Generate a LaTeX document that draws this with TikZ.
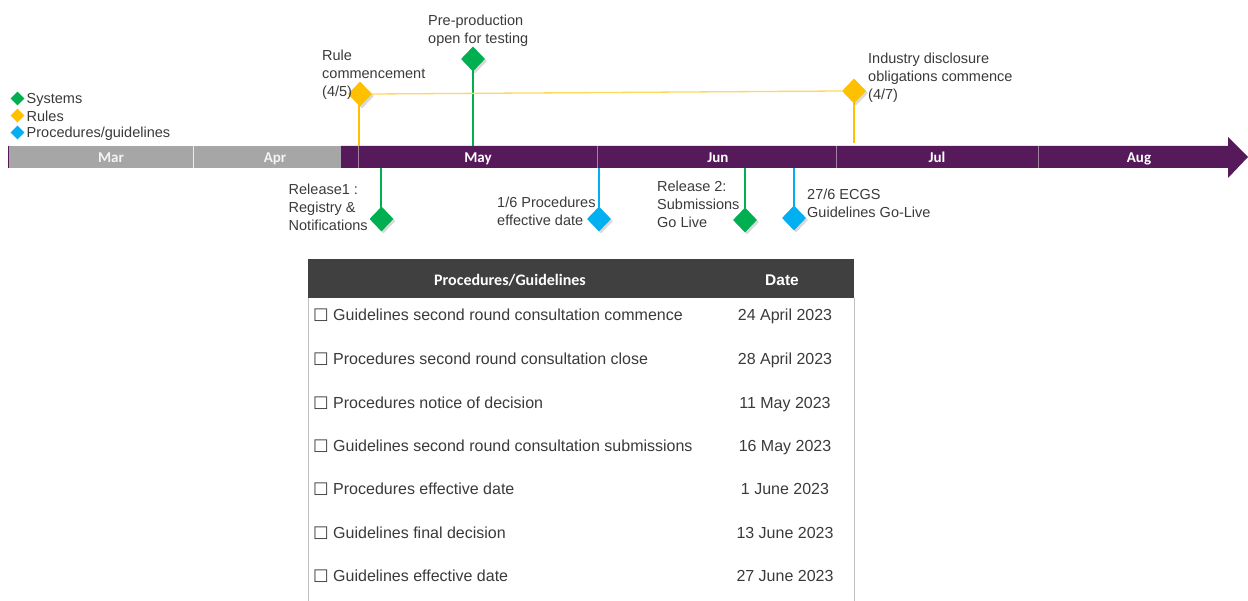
\documentclass[tikz,border=0pt]{standalone}
\usepackage{fontspec}
\setmainfont{Liberation Sans}
\newfontfamily\carlito{Carlito}
\newfontfamily\dejavu{DejaVu Sans}
\usepackage{tikz}
\usetikzlibrary{shapes.geometric,shadows}

\definecolor{sysgreen}{HTML}{00B050}
\definecolor{rulegold}{HTML}{FFC000}
\definecolor{procblue}{HTML}{00B0F0}
\definecolor{barpurple}{HTML}{561A5B}
\definecolor{bargray}{HTML}{A6A6A6}
\definecolor{txtgray}{HTML}{3A3A3A}
\definecolor{hdrgray}{HTML}{404040}
\definecolor{linegold}{HTML}{FFD75A}

\newcommand{\chk}{\raisebox{1pt}{\dejavu\fontsize{16.5}{19}\selectfont □}}

\tikzset{
	mile/.style={diamond, inner sep=0pt, minimum width=24pt, minimum height=25pt,
		drop shadow={shadow xshift=2pt, shadow yshift=-2pt, opacity=.3}},
	legmark/.style={diamond, inner sep=0pt, minimum width=14pt, minimum height=14pt},
	lbl/.style={font=\fontsize{14.5}{18}\selectfont, text=txtgray, align=left, inner sep=0pt, anchor=west},
	month/.style={font=\carlito\bfseries\fontsize{15}{17}\selectfont, inner sep=0pt, anchor=base},
	stem/.style={line width=2pt},
	rowtxt/.style={font=\fontsize{16}{19}\selectfont, text=txtgray, inner sep=0pt, anchor=base west},
	datetxt/.style={font=\fontsize{16}{19}\selectfont, text=txtgray, inner sep=0pt, anchor=base},
}

\begin{document}
\begin{tikzpicture}[x=1pt,y=-1pt]
	
	\useasboundingbox (0,0) rectangle (1248,601);
	
	% timeline bar
	\fill[bargray] (8,146) rectangle (341,168);
	\fill[barpurple] (341,146) -- (1228,146) -- (1228,137) -- (1248,157) -- (1228,178) -- (1228,168) -- (341,168) -- cycle;
	\draw[barpurple, line width=1pt] (8.5,146) -- (8.5,168);
	\draw[white!80!bargray, line width=.6pt] (193,146) -- (193,168);
	\draw[white!45!barpurple, line width=.6pt] (358.5,146) -- (358.5,168);
	\draw[white!45!barpurple, line width=.6pt] (597,146) -- (597,168);
	\draw[white!45!barpurple, line width=.6pt] (836,146) -- (836,168);
	\draw[white!45!barpurple, line width=.6pt] (1038,146) -- (1038,168);
	
	\node[month, text=white!88!bargray] (mar) at (111,162.5) {Mar};
	\node[month, text=white!88!bargray] (apr) at (275,162.5) {Apr};
	\node[month, text=white] (may) at (478,162.5) {May};
	\node[month, text=white] (jun) at (718,162.5) {Jun};
	\node[month, text=white] (jul) at (937,162.5) {Jul};
	\node[month, text=white] (aug) at (1139,162.5) {Aug};
	
	\coordinate (t-rule) at (359,146);
	\coordinate (t-pre) at (473,146);
	\coordinate (t-ind) at (854,143);
	\coordinate (b-rel1) at (381,168);
	\coordinate (b-proc) at (599,168);
	\coordinate (b-rel2) at (745,168);
	\coordinate (b-ecgs) at (794,168);
	
	% stems
	\coordinate (s-rule) at (359,100);
	\coordinate (s-pre) at (473,65);
	\coordinate (s-ind) at (854,97);
	\coordinate (s-rel1) at (381,213);
	\coordinate (s-proc) at (599,213);
	\coordinate (s-rel2) at (745,214);
	\coordinate (s-ecgs) at (794,212);
	\draw[stem, rulegold] (s-rule) -- (t-rule);
	\draw[stem, sysgreen] (s-pre) -- (t-pre);
	\draw[stem, rulegold] (s-ind) -- (t-ind);
	\draw[stem, sysgreen] (b-rel1) -- (s-rel1);
	\draw[stem, procblue] (b-proc) -- (s-proc);
	\draw[stem, sysgreen] (b-rel2) -- (s-rel2);
	\draw[stem, procblue] (b-ecgs) -- (s-ecgs);
	
	% milestones
	\node[mile, fill=rulegold] (rule) at (360,94) {};
	\node[mile, fill=sysgreen] (pre) at (473,59) {};
	\node[mile, fill=rulegold] (ind) at (854,91) {};
	\node[mile, fill=sysgreen] (rel1) at (381.5,219) {};
	\node[mile, fill=procblue] (proc) at (599,219) {};
	\node[mile, fill=sysgreen] (rel2) at (745,220) {};
	\node[mile, fill=procblue] (ecgs) at (794,218) {};
	\draw[linegold, line width=1.3pt] (rule.east) -- (ind.west);
	
	\node[lbl] (rulelbl) at (322,74.5) {Rule\\commencement\\(4/5)};
	\node[lbl] (prelbl) at (428,30.5) {Pre-production\\open for testing};
	\node[lbl] (indlbl) at (868,77.5) {Industry disclosure\\obligations commence\\(4/7)};
	\node[lbl] (rel1lbl) at (288.5,207) {Release1 :\\Registry \&\\Notifications};
	\node[lbl] (proclbl) at (497,211) {1/6 Procedures\\effective date};
	\node[lbl] (rel2lbl) at (657,204) {Release 2:\\Submissions\\Go Live};
	\node[lbl] (ecgslbl) at (807,203.5) {27/6 ECGS\\Guidelines Go-Live};
	
	% legend
	\node[legmark, fill=sysgreen] (legsys) at (17.5,98.5) {};
	\node[legmark, fill=rulegold] (legrule) at (17.5,115.5) {};
	\node[legmark, fill=procblue] (legproc) at (17.5,132.5) {};
	\node[lbl] (legsyslbl) at (26.5,99.5) {Systems};
	\node[lbl] (legrulelbl) at (26.5,116.5) {Rules};
	\node[lbl] (legproclbl) at (26.5,133.5) {Procedures/guidelines};
	
	% table
	\fill[hdrgray] (308,259) rectangle (854,298);
	\draw[black!25, line width=1pt] (308,298) -- (308,601);
	\draw[black!25, line width=1pt] (854,298) -- (854,601);
	\node[font=\carlito\bfseries\fontsize{16}{19}\selectfont, text=white, inner sep=0pt] (hdrproc) at (510,280) {Procedures/Guidelines};
	\node[font=\bfseries\fontsize{15.5}{19}\selectfont, text=white, inner sep=0pt] (hdrdate) at (782,280) {Date};
	
	\node[rowtxt] (row1) at (313,320.5) {\chk\ Guidelines second round consultation commence};
	\node[rowtxt] (row2) at (313,364.5) {\chk\ Procedures second round consultation close};
	\node[rowtxt] (row3) at (313,408.5) {\chk\ Procedures notice of decision};
	\node[rowtxt] (row4) at (313,451.5) {\chk\ Guidelines second round consultation submissions};
	\node[rowtxt] (row5) at (313,494.5) {\chk\ Procedures effective date};
	\node[rowtxt] (row6) at (313,538.5) {\chk\ Guidelines final decision};
	\node[rowtxt] (row7) at (313,581.5) {\chk\ Guidelines effective date};
	
	\node[datetxt] (date1) at (785,320.5) {24 April 2023};
	\node[datetxt] (date2) at (785,364.5) {28 April 2023};
	\node[datetxt] (date3) at (785,408.5) {11 May 2023};
	\node[datetxt] (date4) at (785,451.5) {16 May 2023};
	\node[datetxt] (date5) at (785,494.5) {1 June 2023};
	\node[datetxt] (date6) at (785,538.5) {13 June 2023};
	\node[datetxt] (date7) at (785,581.5) {27 June 2023};
	
\end{tikzpicture}
\end{document}
